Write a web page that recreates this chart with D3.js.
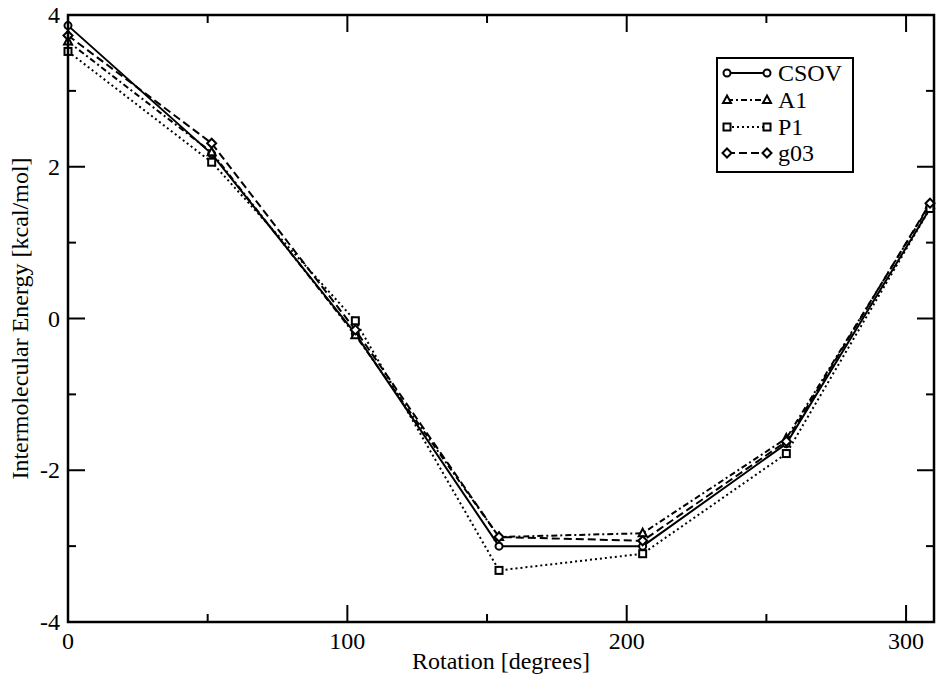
<!DOCTYPE html>
<html><head><meta charset="utf-8">
<script src="https://cdn.jsdelivr.net/npm/d3@7"></script>
<style>body{margin:0;background:#fff}svg{display:block}</style>
</head><body><svg id="c" width="944" height="683"></svg>
<script>
const rotations = [0, 51.43, 102.86, 154.29, 205.71, 257.14, 308.57];
const csov = [3.86, 2.17, -0.20, -3.00, -3.00, -1.65, 1.45];
const a1   = [3.65, 2.19, -0.22, -2.88, -2.83, -1.58, 1.50];
const p1   = [3.52, 2.06, -0.03, -3.32, -3.10, -1.78, 1.45];
const g03  = [3.73, 2.31, -0.15, -2.88, -2.93, -1.62, 1.52];
const seriesNames = ["CSOV", "A1", "P1", "g03"];
const xMajor = [0, 100, 200, 300], xMinor = [50, 150, 250];
const yMajor = [-4, -2, 0, 2, 4], yMinor = [-3, -1, 1, 3];

const FONT = "'Liberation Serif', 'Times New Roman', serif";
const L = 68, R = 934, T = 15, B = 622;
const x = d3.scaleLinear().domain([0, 310]).range([L, R]);
const y = d3.scaleLinear().domain([-4, 4]).range([B, T]);
const svg = d3.select("#c");

const series = [
  {name: seriesNames[0], vals: csov, dash: null, sym: "circle"},
  {name: seriesNames[1], vals: a1, dash: "6,3,2,3", sym: "triangle"},
  {name: seriesNames[2], vals: p1, dash: "2,3", sym: "square"},
  {name: seriesNames[3], vals: g03, dash: "8,4", sym: "diamond"}
];
function drawSym(g, type, cx, cy) {
  const st = p => p.attr("fill", "#fff").attr("stroke", "#000").attr("stroke-width", 2);
  if (type === "circle") st(g.append("circle").attr("cx", cx).attr("cy", cy).attr("r", 3.5));
  else if (type === "square") st(g.append("rect").attr("x", cx-3.5).attr("y", cy-3.5).attr("width", 7).attr("height", 7));
  else if (type === "triangle") st(g.append("path").attr("d", `M${cx},${cy-4.5}L${cx+4},${cy+3}L${cx-4},${cy+3}Z`));
  else st(g.append("path").attr("d", `M${cx},${cy-4.5}L${cx+4.5},${cy}L${cx},${cy+4.5}L${cx-4.5},${cy}Z`));
}
function txt(g, xx, yy, s, anchor) {
  return g.append("text").attr("x", xx).attr("y", yy).attr("text-anchor", anchor || "start")
    .attr("font-family", FONT).attr("font-size", 24).attr("fill", "#000").text(s);
}

// lines
const line = d3.line().x((d, i) => x(rotations[i])).y(d => y(d));
const plot = svg.append("g");
series.forEach(s => {
  plot.append("path").attr("d", line(s.vals)).attr("fill", "none").attr("stroke", "#000")
    .attr("stroke-width", 2).attr("stroke-dasharray", s.dash);
});
series.forEach(s => {
  s.vals.forEach((v, i) => drawSym(plot, s.sym, x(rotations[i]), y(v)));
});

// frame
svg.append("rect").attr("x", L).attr("y", T).attr("width", R-L).attr("height", B-T)
  .attr("fill", "none").attr("stroke", "#000").attr("stroke-width", 2.5);

// ticks (inward on all sides)
const tk = svg.append("g").attr("stroke", "#000").attr("stroke-width", 2);
xMajor.forEach(v => { tk.append("line").attr("x1", x(v)).attr("x2", x(v)).attr("y1", B).attr("y2", B-17);
  tk.append("line").attr("x1", x(v)).attr("x2", x(v)).attr("y1", T).attr("y2", T+17); });
xMinor.forEach(v => { tk.append("line").attr("x1", x(v)).attr("x2", x(v)).attr("y1", B).attr("y2", B-8);
  tk.append("line").attr("x1", x(v)).attr("x2", x(v)).attr("y1", T).attr("y2", T+8); });
yMajor.forEach(v => { tk.append("line").attr("x1", L).attr("x2", L+17).attr("y1", y(v)).attr("y2", y(v));
  tk.append("line").attr("x1", R).attr("x2", R-17).attr("y1", y(v)).attr("y2", y(v)); });
yMinor.forEach(v => { tk.append("line").attr("x1", L).attr("x2", L+8).attr("y1", y(v)).attr("y2", y(v));
  tk.append("line").attr("x1", R).attr("x2", R-8).attr("y1", y(v)).attr("y2", y(v)); });

// tick labels
xMajor.forEach(v => txt(svg, x(v), B+27, v, "middle"));
yMajor.forEach(v => txt(svg, L-8, y(v)+8, v, "end"));

// axis titles
txt(svg, (L+R)/2, 669, "Rotation [degrees]", "middle");
txt(svg, 0, 0, "Intermolecular Energy [kcal/mol]", "middle")
  .attr("transform", `translate(28,${(T+B)/2}) rotate(-90)`);

// legend
const lg = svg.append("g");
lg.append("rect").attr("x", 717).attr("y", 58).attr("width", 136).attr("height", 114)
  .attr("fill", "#fff").attr("stroke", "#000").attr("stroke-width", 2);
const ly = [73, 100, 127, 153];
series.forEach((s, i) => {
  lg.append("line").attr("x1", 727).attr("x2", 767).attr("y1", ly[i]).attr("y2", ly[i])
    .attr("stroke", "#000").attr("stroke-width", 2).attr("stroke-dasharray", s.dash);
  drawSym(lg, s.sym, 727, ly[i]); drawSym(lg, s.sym, 767, ly[i]);
  txt(lg, 778, ly[i]+8, s.name);
});
</script></body></html>
